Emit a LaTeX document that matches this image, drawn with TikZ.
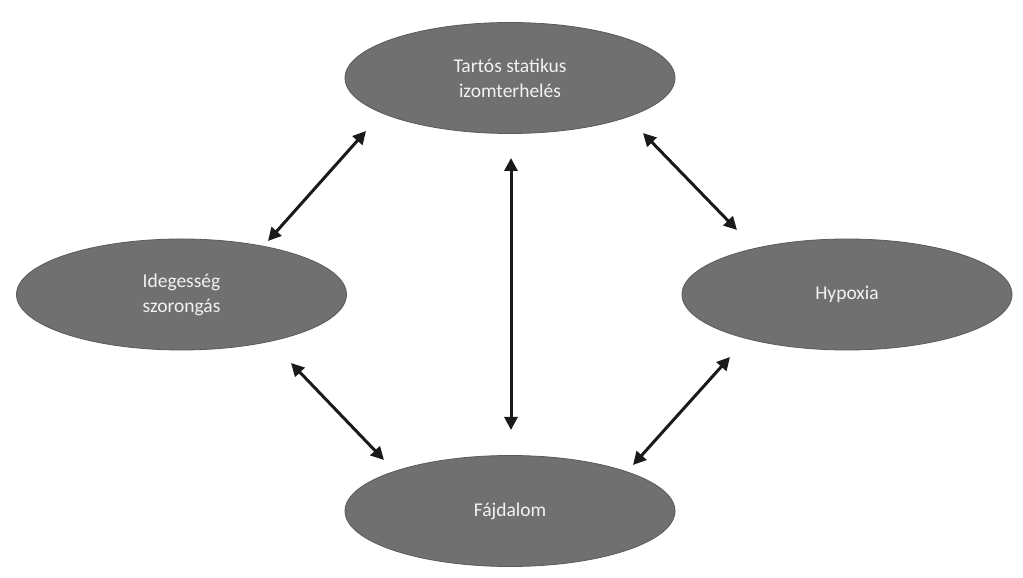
\documentclass[tikz,border=0pt]{standalone}
\usepackage{fontspec}
\setmainfont{Carlito}
\usetikzlibrary{shapes.geometric,arrows.meta}
\definecolor{ellgray}{HTML}{707070}
\definecolor{ellborder}{HTML}{5A5A5A}
\definecolor{txtwhite}{HTML}{F2F2F2}
\definecolor{arrowblack}{HTML}{1A1A1A}
\tikzset{
  ellnode/.style={ellipse, fill=ellgray, draw=ellborder, line width=0.8pt,
    minimum width=330pt, minimum height=111pt, inner sep=0pt,
    text=txtwhite, align=center,
    font=\fontsize{19.5pt}{25pt}\selectfont},
  biarrow/.style={draw=arrowblack, line width=3pt,
    {Triangle[length=13pt,width=13pt]}-{Triangle[length=13pt,width=13pt]}}
}
\begin{document}
\begin{tikzpicture}[x=1pt,y=1pt]
\useasboundingbox (0,0) rectangle (1023,578);
% nodes (y = 578 - image y)
\node[ellnode] (top) at (510,500) {Tartós statikus\\izomterhelés};
\node[ellnode] (left) at (181.5,283.5) {Idegesség\\szorongás};
\node[ellnode] (right) at (847,283.5) {Hypoxia};
\node[ellnode] (bottom) at (510,67) {Fájdalom};
% arrow end points
\coordinate (tl1) at (366,447);
\coordinate (tl2) at (268,337);
\coordinate (v1) at (511,420);
\coordinate (v2) at (511,148);
\coordinate (tr1) at (643,445);
\coordinate (tr2) at (737,348);
\coordinate (lb1) at (291,215);
\coordinate (lb2) at (384,118);
\coordinate (rb1) at (730,221);
\coordinate (rb2) at (633,113);
\draw[biarrow] (tl1) -- (tl2);
\draw[biarrow] (v1) -- (v2);
\draw[biarrow] (tr1) -- (tr2);
\draw[biarrow] (lb1) -- (lb2);
\draw[biarrow] (rb1) -- (rb2);
\end{tikzpicture}
\end{document}
